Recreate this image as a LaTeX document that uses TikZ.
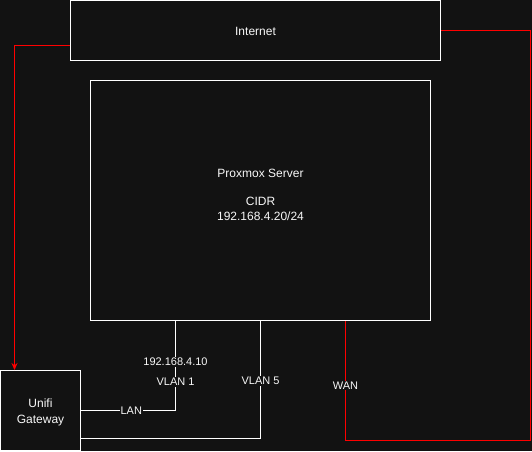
\documentclass[tikz,border=0pt]{standalone}
\usepackage{fontspec}
\setmainfont{Liberation Sans}
\usetikzlibrary{arrows.meta}
\definecolor{bg}{RGB}{18,18,18}
\definecolor{fg}{RGB}{248,248,248}
\definecolor{wanred}{RGB}{255,0,0}
\begin{document}
\begin{tikzpicture}[x=1pt,y=-1pt,
  box/.style={draw=white,line width=1pt,fill=bg,text=fg,font=\fontsize{12}{14.4}\selectfont,align=center,inner sep=0pt},
  link/.style={draw=white,line width=1pt},
  redlink/.style={draw=wanred,line width=1pt},
  elabel/.style={fill=bg,text=fg,font=\fontsize{11}{13}\selectfont,inner sep=1pt}]
\fill[bg] (0,0) rectangle (532,451);
\useasboundingbox (0,0) rectangle (532,451);
\node[box,minimum width=370pt,minimum height=60pt,
  label={[text=fg,font=\fontsize{12}{14.4}\selectfont,yshift=-1pt]center:{Internet}}] (inet) at (255.5,30.5) {};
\node[box,minimum width=340pt,minimum height=240pt,
  label={[text=fg,font=\fontsize{12}{14.4}\selectfont,align=center,yshift=6pt]center:{Proxmox Server\\[14.4pt]CIDR\\192.168.4.20/24}}] (prox) at (260.5,200.5) {};
\node[box,minimum width=80pt,minimum height=80pt,
  label={[text=fg,font=\fontsize{12}{15.5}\selectfont,align=center,yshift=-2pt]center:{Unifi\\Gateway}}] (gw) at (40.5,410.5) {};
% red link to gateway
\draw[redlink,-{Stealth[length=7pt,width=6pt]}] ([yshift=-15pt]inet.west) -| ([xshift=-26pt]gw.north);
% WAN link
\coordinate (wc) at (530.5,440.5);
\draw[redlink] (inet.east) -| (wc) -| node[elabel,pos=0.73]{WAN} ([xshift=85pt]prox.south);
% LAN / VLAN 1
\draw[link] ([xshift=-85pt]prox.south) |- node[elabel,pos=0.23]{192.168.4.10} node[elabel,pos=0.34]{VLAN 1} node[elabel,pos=0.734]{LAN} (gw.east);
% VLAN 5
\draw[link] (prox.south) |- node[elabel,pos=0.256]{VLAN 5} ([yshift=-28pt]gw.east);
\end{tikzpicture}
\end{document}
